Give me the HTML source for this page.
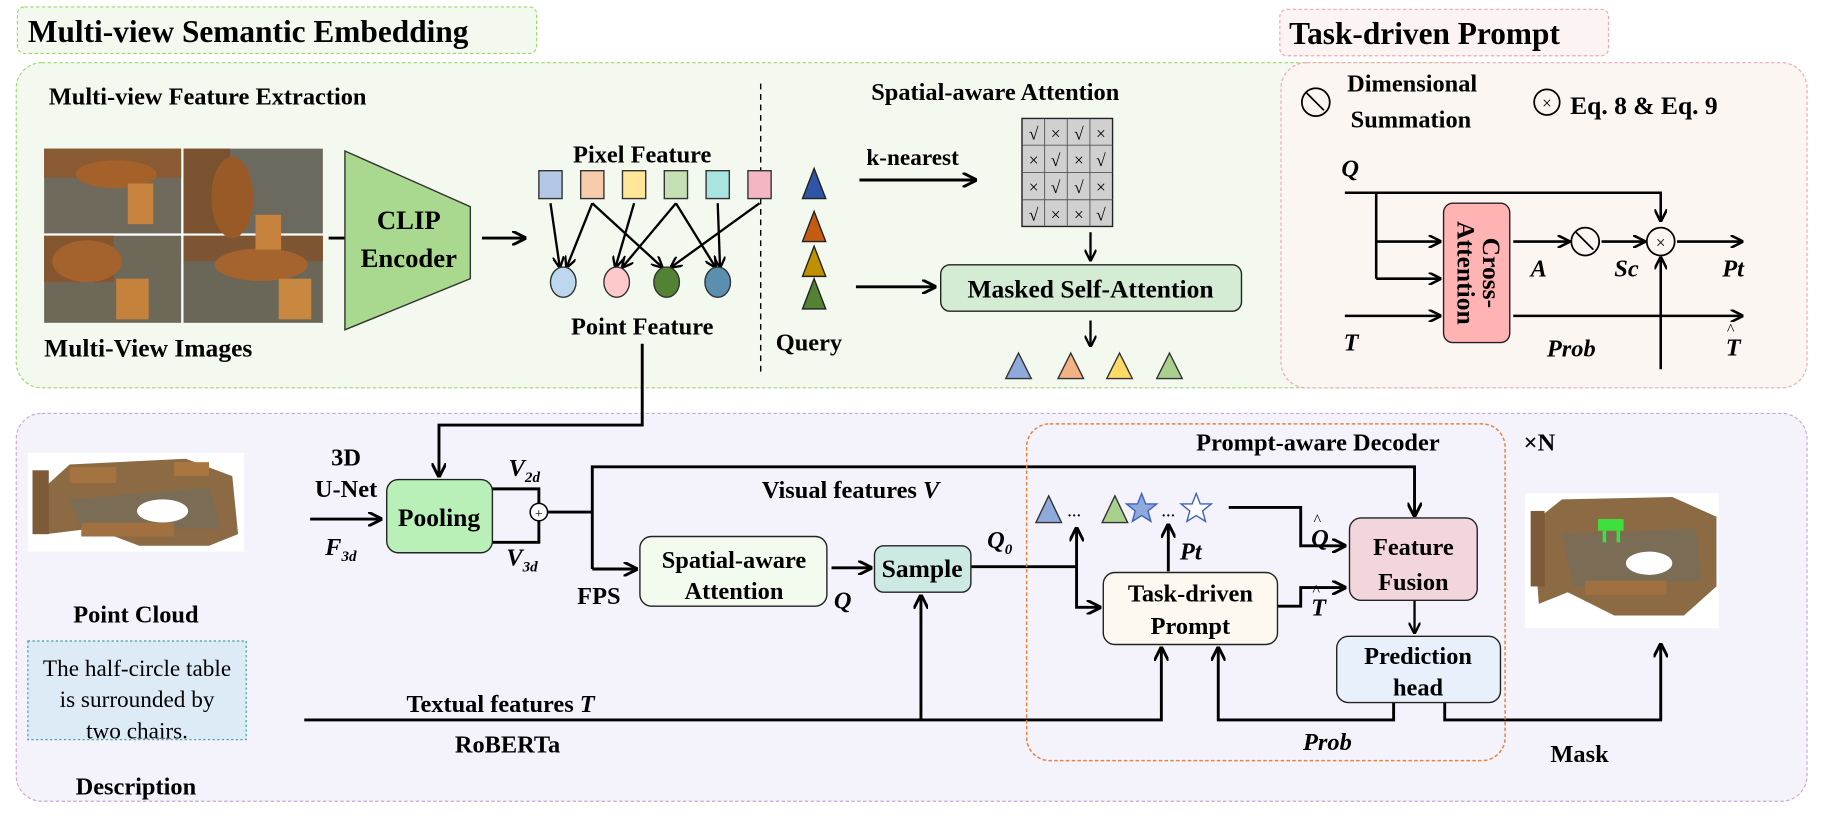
<!DOCTYPE html>
<html><head><meta charset="utf-8"><style>
html,body{margin:0;padding:0;background:#fff}
svg{display:block}
text{font-family:"Liberation Serif",serif;font-weight:bold;fill:#000}
.i{font-style:italic}
.n{font-weight:normal}
</style></head><body>
<svg width="1821" height="821" viewBox="0 0 1568 707" preserveAspectRatio="none" xmlns="http://www.w3.org/2000/svg">
<defs>
<marker id="a" viewBox="0 0 10 10" refX="9" refY="5" markerWidth="5" markerHeight="5" orient="auto"><path d="M0,0 L10,5 L0,10" fill="none" stroke="#000" stroke-width="2"/></marker>
</defs>
<rect x="15" y="6" width="447" height="40" rx="6" fill="#f3f9ee" stroke="#9fd86a" stroke-dasharray="3,2"/>
<text x="24" y="36" font-size="27">Multi-view Semantic Embedding</text>
<rect x="1102" y="8" width="283" height="40" rx="6" fill="#fcf4f2" stroke="#f0a8b0" stroke-dasharray="3,2"/>
<text x="1110" y="38" font-size="27">Task-driven Prompt</text>
<rect x="14" y="54" width="1268" height="280" rx="22" fill="#f4f9ef" stroke="#9fd86a" stroke-dasharray="3,2"/>
<rect x="1103" y="54" width="453" height="280" rx="22" fill="#fcf6f3" stroke="#f0a8b0" stroke-dasharray="3,2"/>
<rect x="14" y="356" width="1542" height="334" rx="22" fill="#f4f3fc" stroke="#c8a8d8" stroke-dasharray="3,2"/>

<g stroke="#000" stroke-width="2.5" fill="none">
<line x1="283" y1="205" x2="335" y2="205" marker-end="url(#a)"/>
<line x1="415" y1="205" x2="452" y2="205" marker-end="url(#a)"/>
<line x1="474" y1="175" x2="482" y2="230" stroke-width="2" marker-end="url(#a)"/>
<line x1="510" y1="175" x2="488" y2="230" stroke-width="2" marker-end="url(#a)"/>
<line x1="510" y1="175" x2="570" y2="230" stroke-width="2" marker-end="url(#a)"/>
<line x1="546" y1="175" x2="530" y2="230" stroke-width="2" marker-end="url(#a)"/>
<line x1="582" y1="175" x2="536" y2="230" stroke-width="2" marker-end="url(#a)"/>
<line x1="582" y1="175" x2="616" y2="230" stroke-width="2" marker-end="url(#a)"/>
<line x1="618" y1="175" x2="620" y2="230" stroke-width="2" marker-end="url(#a)"/>
<line x1="654" y1="175" x2="578" y2="230" stroke-width="2" marker-end="url(#a)"/>
<polyline points="553,296 553,366 378,366 378,410" marker-end="url(#a)"/>
<line x1="655" y1="72" x2="655" y2="322" stroke-width="1.2" stroke-dasharray="5,4"/>
<line x1="740" y1="155" x2="840" y2="155" marker-end="url(#a)"/>
<line x1="939" y1="200" x2="939" y2="224" stroke-width="2" marker-end="url(#a)"/>
<line x1="737" y1="247" x2="805" y2="247" marker-end="url(#a)"/>
<line x1="939" y1="276" x2="939" y2="298" stroke-width="2" marker-end="url(#a)"/>
<polyline points="1158,166 1430,166 1430,190" stroke-width="2.2" marker-end="url(#a)"/>
<polyline points="1185,166 1185,240" stroke-width="2.2"/>
<line x1="1185" y1="208" x2="1240" y2="208" stroke-width="2.2" marker-end="url(#a)"/>
<line x1="1185" y1="240" x2="1240" y2="240" stroke-width="2.2" marker-end="url(#a)"/>
<line x1="1158" y1="272" x2="1240" y2="272" stroke-width="2.2" marker-end="url(#a)"/>
<line x1="1303" y1="208" x2="1351" y2="208" stroke-width="2.2" marker-end="url(#a)"/>
<line x1="1379" y1="208" x2="1416" y2="208" stroke-width="2.2" marker-end="url(#a)"/>
<line x1="1444" y1="208" x2="1500" y2="208" stroke-width="2.2" marker-end="url(#a)"/>
<line x1="1303" y1="272" x2="1500" y2="272" stroke-width="2.2" marker-end="url(#a)"/>
<line x1="1430" y1="318" x2="1430" y2="222" stroke-width="2.2" marker-end="url(#a)"/>
<line x1="267" y1="447" x2="328" y2="447" marker-end="url(#a)"/>
<polyline points="424,421 464,421 464,434"/>
<polyline points="424,467 464,467 464,449"/>
<polyline points="472,441 510,441"/>
<polyline points="510,490 510,402 1218,402 1218,444" marker-end="url(#a)"/>
<line x1="510" y1="490" x2="548" y2="490" marker-end="url(#a)"/>
<line x1="716" y1="489" x2="750" y2="489" marker-end="url(#a)"/>
<polyline points="836,488 927,488"/>
<line x1="927" y1="488" x2="927" y2="455" marker-end="url(#a)"/>
<polyline points="927,488 927,523 947,523" marker-end="url(#a)"/>
<polyline points="1058,437 1120,437 1120,470 1158,470" marker-end="url(#a)"/>
<line x1="1006" y1="492" x2="1006" y2="452" marker-end="url(#a)"/>
<polyline points="1100,522 1120,522 1120,506 1158,506" marker-end="url(#a)"/>
<line x1="1218" y1="517" x2="1218" y2="545" stroke-width="2" marker-end="url(#a)"/>
<polyline points="262,620 1000,620 1000,558" marker-end="url(#a)"/>
<line x1="793" y1="620" x2="793" y2="513" marker-end="url(#a)"/>
<polyline points="1200,605 1200,620 1049,620 1049,558" marker-end="url(#a)"/>
<polyline points="1244,605 1244,620 1430,620 1430,555" marker-end="url(#a)"/>
</g>

<g>
<rect x="38" y="128" width="240" height="150" fill="#fff"/>
<rect x="38" y="128" width="118" height="73" fill="#6f6a5c"/><rect x="158" y="128" width="120" height="73" fill="#6c6a5e"/>
<rect x="38" y="203" width="118" height="75" fill="#6e6858"/><rect x="158" y="203" width="120" height="75" fill="#6a6658"/>
<rect x="38" y="128" width="118" height="25" fill="#8a5a32"/><rect x="158" y="128" width="40" height="73" fill="#7a5230"/>
<rect x="38" y="203" width="60" height="40" fill="#84562f"/><rect x="158" y="203" width="120" height="22" fill="#7e5532"/>
<ellipse cx="100" cy="150" rx="35" ry="12" fill="#a5612a"/><ellipse cx="200" cy="170" rx="18" ry="35" fill="#9a5a28"/>
<ellipse cx="75" cy="225" rx="30" ry="18" fill="#a4622c"/><ellipse cx="225" cy="228" rx="40" ry="14" fill="#a5632d"/>
<rect x="110" y="158" width="22" height="35" fill="#c8843e"/><rect x="220" y="185" width="22" height="30" fill="#c7833d"/>
<rect x="100" y="240" width="28" height="35" fill="#c4823c"/><rect x="240" y="240" width="28" height="35" fill="#c8883f"/>
</g>
<text x="38" y="307" font-size="22">Multi-View Images</text>
<text x="42" y="90" font-size="21">Multi-view Feature Extraction</text>
<polygon points="297,130 405,178 405,240 297,284" fill="#a9d98e" stroke="#333" stroke-width="1.2"/>
<text x="352" y="197" font-size="23" text-anchor="middle">CLIP</text>
<text x="352" y="230" font-size="23" text-anchor="middle">Encoder</text>
<text x="553" y="140" font-size="21" text-anchor="middle">Pixel Feature</text>
<g stroke="#333" stroke-width="1.2">
<rect x="464" y="147" width="20" height="24" fill="#b4c7e7"/><rect x="500" y="147" width="20" height="24" fill="#f8cbad"/>
<rect x="536" y="147" width="20" height="24" fill="#ffe699"/><rect x="572" y="147" width="20" height="24" fill="#c5e0b4"/>
<rect x="608" y="147" width="20" height="24" fill="#a9e5e0"/><rect x="644" y="147" width="20" height="24" fill="#f4b6c2"/>
<ellipse cx="485" cy="243" rx="11" ry="13" fill="#bdd7ee"/><ellipse cx="531" cy="243" rx="11" ry="13" fill="#ffc9cc"/>
<ellipse cx="574" cy="243" rx="11" ry="13" fill="#548235"/><ellipse cx="618" cy="243" rx="11" ry="13" fill="#5b8fb0"/>
</g>
<text x="553" y="288" font-size="21" text-anchor="middle">Point Feature</text>
<text x="857" y="86" font-size="21" text-anchor="middle">Spatial-aware Attention</text>
<g stroke="#222" stroke-width="1.2">
<polygon points="701,145 711,171 691,171" fill="#2f55a4"/>
<polygon points="701,182 711,208 691,208" fill="#c55a11"/>
<polygon points="701,212 711,238 691,238" fill="#bf9000"/>
<polygon points="701,240 711,266 691,266" fill="#548235"/>
</g>
<text x="746" y="142" font-size="20">k-nearest</text>
<g>
<rect x="880" y="102" width="78" height="93" fill="#d0d0d0" stroke="#222" stroke-width="1.2"/>
<g stroke="#555" stroke-width="0.8"><line x1="899.5" y1="102" x2="899.5" y2="195"/><line x1="919" y1="102" x2="919" y2="195"/><line x1="938.5" y1="102" x2="938.5" y2="195"/>
<line x1="880" y1="125" x2="958" y2="125"/><line x1="880" y1="148.5" x2="958" y2="148.5"/><line x1="880" y1="172" x2="958" y2="172"/></g>
<g font-size="15" text-anchor="middle">
<text x="890" y="120" class="n">√</text><text x="909" y="120" class="n">×</text><text x="929" y="120" class="n">√</text><text x="948" y="120" class="n">×</text>
<text x="890" y="143" class="n">×</text><text x="909" y="143" class="n">√</text><text x="929" y="143" class="n">×</text><text x="948" y="143" class="n">√</text>
<text x="890" y="166" class="n">×</text><text x="909" y="166" class="n">√</text><text x="929" y="166" class="n">√</text><text x="948" y="166" class="n">×</text>
<text x="890" y="190" class="n">√</text><text x="909" y="190" class="n">×</text><text x="929" y="190" class="n">×</text><text x="948" y="190" class="n">√</text>
</g></g>
<rect x="810" y="228" width="259" height="40" rx="8" fill="#d4ebd4" stroke="#222" stroke-width="1.2"/>
<text x="939" y="256" font-size="22" text-anchor="middle">Masked Self-Attention</text>
<text x="668" y="302" font-size="21">Query</text>
<g stroke="#333" stroke-width="1.2">
<polygon points="877,304 888,326 866,326" fill="#8eaadb"/><polygon points="922,304 933,326 911,326" fill="#f4b183"/>
<polygon points="964,304 975,326 953,326" fill="#ffd966"/><polygon points="1007,304 1018,326 996,326" fill="#a9d18e"/>
</g>
<g stroke="#000" stroke-width="1.5" fill="none">
<circle cx="1133" cy="88" r="12"/><line x1="1125" y1="80" x2="1140" y2="95"/>
<circle cx="1332" cy="88" r="11"/>
<circle cx="1365" cy="208" r="12" fill="#fcf6f3"/><line x1="1357" y1="200" x2="1372" y2="215"/>
<circle cx="1430" cy="208" r="12" fill="#fcf6f3"/>
</g>
<text x="1332" y="94" font-size="15" text-anchor="middle" class="n">×</text>
<text x="1430" y="214" font-size="15" text-anchor="middle" class="n">×</text>
<text x="1160" y="79" font-size="21">Dimensional</text>
<text x="1163" y="110" font-size="21">Summation</text>
<text x="1352" y="98" font-size="22">Eq. 8 &amp; Eq. 9</text>
<text x="1155" y="152" font-size="21" class="i">Q</text>
<text x="1157" y="302" font-size="21" class="i">T</text>
<rect x="1243" y="175" width="57" height="120" rx="8" fill="#ffb3b3" stroke="#222" stroke-width="1.2"/>
<text transform="translate(1271,235) rotate(90)" font-size="22" text-anchor="middle" y="-6">Cross-</text>
<text transform="translate(1271,235) rotate(90)" font-size="22" text-anchor="middle" y="16">Attention</text>
<text x="1318" y="238" font-size="21" class="i">A</text>
<text x="1390" y="238" font-size="21" class="i">Sc</text>
<text x="1483" y="238" font-size="21" class="i">Pt</text>
<text x="1332" y="307" font-size="21" class="i">Prob</text>
<text x="1486" y="306" font-size="21" class="i">T</text><text x="1487" y="288" font-size="14" class="n">^</text>
<g>
<rect x="24" y="390" width="186" height="85" fill="#fff"/>
<polygon points="38,420 60,400 160,395 200,410 205,460 180,470 120,470 80,455 40,460" fill="#8c6a44"/>
<polygon points="60,430 180,420 190,455 70,455" fill="#7a6c55"/>
<ellipse cx="140" cy="440" rx="22" ry="10" fill="#fff"/>
<rect x="60" y="402" width="40" height="14" fill="#a5733f"/><rect x="150" y="398" width="30" height="12" fill="#a8763f"/>
<rect x="70" y="450" width="80" height="12" fill="#a07040"/>
<rect x="28" y="405" width="14" height="55" fill="#7d5a38"/>
</g>
<text x="117" y="536" font-size="21" text-anchor="middle">Point Cloud</text>
<rect x="24" y="552" width="188" height="85" fill="#ddebf7" stroke="#3aa0a0" stroke-width="1" stroke-dasharray="2,2"/>
<text x="118" y="582" font-size="20" class="n" text-anchor="middle">The half-circle table</text>
<text x="118" y="609" font-size="20" class="n" text-anchor="middle">is surrounded by</text>
<text x="118" y="636" font-size="20" class="n" text-anchor="middle">two chairs.</text>
<text x="117" y="684" font-size="21" text-anchor="middle">Description</text>
<text x="298" y="401" font-size="21" text-anchor="middle">3D</text>
<text x="298" y="428" font-size="21" text-anchor="middle">U-Net</text>
<text x="280" y="478" font-size="21" class="i">F<tspan font-size="13" dy="5">3d</tspan></text>
<text x="388" y="428" font-size="21" class="i">F<tspan font-size="13" dy="5">2d</tspan></text>
<text x="438" y="410" font-size="21" class="i">V<tspan font-size="13" dy="5">2d</tspan></text>
<text x="436" y="487" font-size="21" class="i">V<tspan font-size="13" dy="5">3d</tspan></text>
<rect x="333" y="413" width="91" height="63" rx="10" fill="#b8f0b8" stroke="#222" stroke-width="1.2"/>
<text x="378" y="453" font-size="22" text-anchor="middle">Pooling</text>
<circle cx="464" cy="441" r="7.5" fill="#fff" stroke="#000" stroke-width="1.3"/>
<text x="464" y="446" font-size="12" class="n" text-anchor="middle">+</text>
<text x="656" y="429" font-size="21">Visual features <tspan class="i">V</tspan></text>
<text x="497" y="520" font-size="21">FPS</text>
<rect x="551" y="462" width="161" height="60" rx="10" fill="#f3fbee" stroke="#222" stroke-width="1.2"/>
<text x="632" y="489" font-size="21" text-anchor="middle">Spatial-aware</text>
<text x="632" y="516" font-size="21" text-anchor="middle">Attention</text>
<text x="718" y="524" font-size="21" class="i">Q</text>
<rect x="753" y="470" width="83" height="40" rx="8" fill="#cce9e3" stroke="#222" stroke-width="1.2"/>
<text x="794" y="497" font-size="22" text-anchor="middle">Sample</text>
<text x="850" y="472" font-size="21" class="i">Q<tspan font-size="13" dy="5">0</tspan></text>
<rect x="884" y="365" width="412" height="290" rx="20" fill="none" stroke="#e8823a" stroke-width="1.3" stroke-dasharray="3,2"/>
<text x="1030" y="388" font-size="21">Prompt-aware Decoder</text>
<text x="1312" y="388" font-size="21">×N</text>
<g stroke="#333" stroke-width="1.2">
<polygon points="903,427 914,450 892,450" fill="#8eaadb"/>
<polygon points="960,427 971,450 949,450" fill="#a9d18e"/>
<polygon points="983,425 986.5,434 996,434 988.5,440 991,449 983,444 975,449 977.5,440 970,434 979.5,434" fill="#8eaadb" stroke="#4060c0"/>
<polygon points="1030,425 1033.5,434 1043,434 1035.5,440 1038,449 1030,444 1022,449 1024.5,440 1017,434 1026.5,434" fill="#fff" stroke="#4060c0"/>
</g>
<text x="919" y="448" font-size="12">···</text>
<text x="1000" y="448" font-size="12">···</text>
<text x="1016" y="482" font-size="21" class="i">Pt</text>
<text x="1129" y="470" font-size="21" class="i">Q</text><text x="1131" y="452" font-size="14" class="n">^</text>
<text x="1129" y="530" font-size="21" class="i">T</text><text x="1130" y="513" font-size="14" class="n">^</text>
<rect x="950" y="493" width="150" height="62" rx="10" fill="#fdf8f0" stroke="#222" stroke-width="1.2"/>
<text x="1025" y="518" font-size="21" text-anchor="middle">Task-driven</text>
<text x="1025" y="546" font-size="21" text-anchor="middle">Prompt</text>
<rect x="1162" y="446" width="110" height="71" rx="10" fill="#f3d5dc" stroke="#222" stroke-width="1.2"/>
<text x="1217" y="478" font-size="21" text-anchor="middle">Feature</text>
<text x="1217" y="508" font-size="21" text-anchor="middle">Fusion</text>
<rect x="1151" y="548" width="141" height="57" rx="10" fill="#e7f0fb" stroke="#222" stroke-width="1.2"/>
<text x="1221" y="572" font-size="21" text-anchor="middle">Prediction</text>
<text x="1221" y="599" font-size="21" text-anchor="middle">head</text>
<text x="350" y="613" font-size="21">Textual features <tspan class="i">T</tspan></text>
<text x="437" y="648" font-size="21" text-anchor="middle">RoBERTa</text>
<text x="1122" y="646" font-size="21" class="i">Prob</text>
<text x="1335" y="656" font-size="21">Mask</text>
<g>
<rect x="1313" y="425" width="167" height="116" fill="#fff"/>
<polygon points="1320,450 1345,430 1440,428 1478,445 1478,505 1450,530 1390,530 1350,510 1325,520" fill="#8c6a44"/>
<polygon points="1345,460 1460,455 1465,500 1355,505" fill="#7a6c55"/>
<ellipse cx="1420" cy="485" rx="20" ry="10" fill="#fff"/>
<rect x="1365" y="500" width="70" height="12" fill="#a07040"/>
<rect x="1376" y="447" width="22" height="10" fill="#3ee03e"/>
<rect x="1380" y="457" width="3" height="10" fill="#3ee03e"/><rect x="1392" y="457" width="3" height="10" fill="#3ee03e"/>
<rect x="1318" y="440" width="12" height="65" fill="#7d5a38"/>
</g>
</svg>
</body></html>
